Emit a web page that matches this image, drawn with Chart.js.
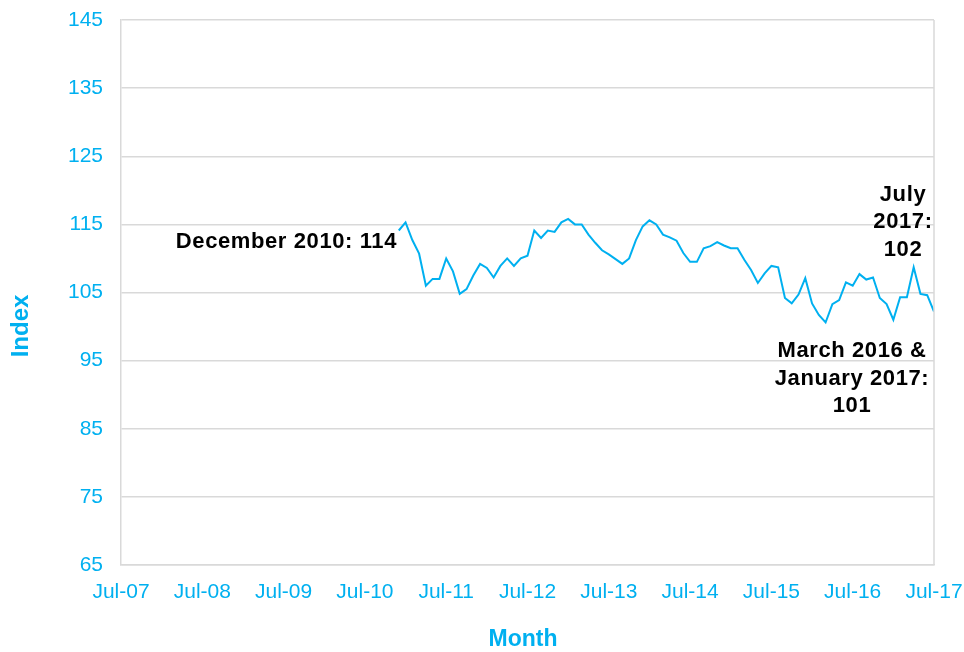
<!DOCTYPE html>
<html>
<head>
<meta charset="utf-8">
<script src="https://cdn.jsdelivr.net/npm/chart.js@4.4.1/dist/chart.umd.min.js"></script>
<style>
  html, body { margin: 0; padding: 0; background: #fff; }
  #wrap { width: 964px; height: 652px; }
</style>
</head>
<body>
<div id="wrap"><canvas id="chart"></canvas></div>
<script>
// x axis runs in months from Jul-07 (0) to Jul-17 (120)
const tickLabels = ['Jul-07', 'Jul-08', 'Jul-09', 'Jul-10', 'Jul-11', 'Jul-12',
  'Jul-13', 'Jul-14', 'Jul-15', 'Jul-16', 'Jul-17'];
const firstMonth = 41; // Dec-10
const indexValues = [
  114.1,
  115.3, 112.7, 110.7, 106.0, 107.0, 107.0, 110.0, 108.1, 104.8, 105.5, 107.5, 109.2,
  108.6, 107.2, 108.9, 110.0, 108.9, 110.0, 110.4, 114.1, 113.0, 114.1, 113.9, 115.3,
  115.8, 115.0, 115.0, 113.5, 112.3, 111.2, 110.6, 109.9, 109.2, 110.0, 112.7, 114.7,
  115.6, 115.0, 113.5, 113.1, 112.6, 110.8, 109.5, 109.5, 111.5, 111.8, 112.4, 111.9,
  111.5, 111.5, 109.8, 108.3, 106.4, 107.8, 108.9, 108.7, 104.2, 103.4, 104.7, 107.1,
  103.4, 101.7, 100.6, 103.3, 103.9, 106.5, 106.0, 107.7, 106.9, 107.2, 104.2, 103.3,
  101.0, 104.3, 104.3, 108.7, 104.8, 104.6, 102.2
];

const blue = '#00B0F0';
const gridCol = '#d9d9d9';
const fontFam = '"Liberation Sans", Arial, sans-serif';

const points = indexValues.map((v, i) => ({ x: firstMonth + i, y: v }));

const extras = {
  id: 'extras',
  afterDraw(chart) {
    const { ctx, chartArea: a } = chart;
    ctx.save();
    // right border of the plot box
    ctx.strokeStyle = gridCol;
    ctx.lineWidth = 1.5;
    ctx.beginPath();
    ctx.moveTo(a.right, a.top);
    ctx.lineTo(a.right, a.bottom);
    ctx.stroke();

    // axis titles
    ctx.fillStyle = blue;
    ctx.font = 'bold 23px ' + fontFam;
    ctx.textAlign = 'center';
    ctx.textBaseline = 'middle';
    ctx.fillText('Month', 523, 640);
    ctx.translate(21, 326);
    ctx.rotate(-Math.PI / 2);
    ctx.font = 'bold 24px ' + fontFam;
    ctx.fillText('Index', 0, 0);
    ctx.restore();

    // annotations
    ctx.save();
    ctx.fillStyle = '#000';
    ctx.font = 'bold 22px ' + fontFam;
    ctx.letterSpacing = '0.6px';
    ctx.textBaseline = 'middle';
    ctx.textAlign = 'right';
    ctx.fillText('December 2010: 114', 397, 242);
    ctx.textAlign = 'center';
    ctx.fillText('July', 903, 195);
    ctx.fillText('2017:', 903, 222);
    ctx.fillText('102', 903, 250);
    ctx.fillText('March 2016 &', 852, 351);
    ctx.fillText('January 2017:', 852, 379);
    ctx.fillText('101', 852, 406);
    ctx.restore();
  }
};

new Chart(document.getElementById('chart'), {
  type: 'line',
  data: {
    datasets: [{
      label: 'Index',
      data: points,
      borderColor: blue,
      borderWidth: 2,
      pointRadius: 0,
      tension: 0,
      fill: false
    }]
  },
  options: {
    responsive: true,
    maintainAspectRatio: false,
    animation: false,
    layout: { padding: { left: 0, right: 30, top: 20, bottom: 0 } },
    plugins: {
      legend: { display: false },
      tooltip: { enabled: false }
    },
    scales: {
      x: {
        type: 'linear',
        min: 0,
        max: 120,
        afterFit(scale) {
          scale.height = 87;
          scale.paddingLeft = 0;
          scale.paddingRight = 0;
        },
        grid: { display: false, drawTicks: false },
        border: { display: true, color: gridCol, width: 1.5 },
        ticks: {
          stepSize: 12,
          padding: 15,
          color: blue,
          font: { family: fontFam, size: 21 },
          maxRotation: 0,
          autoSkip: false,
          callback: (v) => tickLabels[v / 12]
        }
      },
      y: {
        min: 65,
        max: 145,
        afterFit(scale) {
          scale.width = 121;
          scale.paddingTop = 0;
          scale.paddingBottom = 0;
        },
        grid: { color: gridCol, lineWidth: 1.5, drawTicks: false },
        border: { display: true, color: gridCol, width: 1.5 },
        ticks: {
          stepSize: 10,
          padding: 18,
          color: blue,
          font: { family: fontFam, size: 21 }
        }
      }
    }
  },
  plugins: [extras]
});
</script>
</body>
</html>
